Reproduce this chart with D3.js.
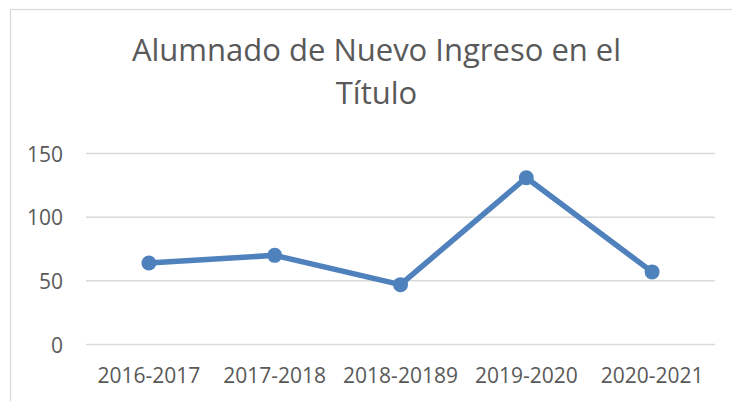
<!DOCTYPE html>
<html>
<head>
<meta charset="utf-8">
<script src="https://cdn.jsdelivr.net/npm/d3@7"></script>
<style>
  body { margin: 0; background: #fff; }
  svg text { font-family: "Open Sans", "Noto Sans", sans-serif; fill: #595959; }
</style>
</head>
<body>
<div id="chart-area"></div>
<script>
// Data
let categories = ["2016-2017", "2017-2018", "2018-20189", "2019-2020", "2020-2021"];
let values = [64, 70, 47, 131, 57];
let yTicks = [0, 50, 100, 150];
let titleLines = ["Alumnado de Nuevo Ingreso en el", "Título"];

// Chart area
let width = 732, height = 401;
let plot = {left: 86, right: 715, top: 153.5, bottom: 344.5};

let svg = d3.select("#chart-area").append("svg")
    .attr("width", width)
    .attr("height", height);

// Outer frame
svg.append("rect")
    .attr("x", 10.5)
    .attr("y", 9.5)
    .attr("width", 740)
    .attr("height", 420)
    .attr("fill", "none")
    .attr("stroke", "#d9d9d9")
    .attr("stroke-width", 1.25);

// Scales
let x = d3.scaleBand()
    .domain(categories)
    .range([plot.left, plot.right]);

let y = d3.scaleLinear()
    .domain([0, 150])
    .range([plot.bottom, plot.top]);

// Gridlines
svg.append("g")
    .attr("class", "grid")
    .selectAll("line")
    .data(yTicks)
    .enter()
    .append("line")
    .attr("x1", plot.left)
    .attr("x2", plot.right)
    .attr("y1", d => y(d))
    .attr("y2", d => y(d))
    .attr("stroke", "#d9d9d9")
    .attr("stroke-width", 1.5);

// Axes
let yAxis = d3.axisLeft(y)
    .tickValues(yTicks)
    .tickSize(0)
    .tickPadding(0);

let yAxisGroup = svg.append("g")
    .attr("class", "y-axis axis")
    .attr("transform", "translate(" + 63 + ",0)")
    .call(yAxis);

yAxisGroup.select(".domain").remove();
yAxisGroup.selectAll("text")
    .style("font-size", "21px")
    .attr("dy", "0.36em");

let xAxis = d3.axisBottom(x)
    .tickSize(0)
    .tickPadding(0);

let xAxisGroup = svg.append("g")
    .attr("class", "x-axis axis")
    .attr("transform", "translate(0," + 383 + ")")
    .call(xAxis);

xAxisGroup.select(".domain").remove();
xAxisGroup.selectAll("text")
    .style("font-size", "21px")
    .attr("y", 0)
    .attr("dy", 0);

svg.selectAll(".axis text").style("fill", "#595959");

// Line
let line = d3.line()
    .x((d, i) => x(categories[i]) + x.bandwidth() / 2)
    .y(d => y(d));

svg.append("path")
    .datum(values)
    .attr("d", line)
    .attr("fill", "none")
    .attr("stroke", "#4f81bd")
    .attr("stroke-width", 5.5)
    .attr("stroke-linejoin", "round");

svg.selectAll(".dot")
    .data(values)
    .enter()
    .append("circle")
    .attr("class", "dot")
    .attr("cx", (d, i) => x(categories[i]) + x.bandwidth() / 2)
    .attr("cy", d => y(d))
    .attr("r", 7.5)
    .attr("fill", "#4f81bd");

// Title, one text per line
svg.selectAll(".chart-title")
    .data(titleLines)
    .enter()
    .append("text")
    .attr("class", "chart-title")
    .attr("x", 376.5)
    .attr("y", (d, i) => i === 0 ? 61 : 103.5)
    .style("text-anchor", "middle")
    .style("font-size", "31px")
    .text(d => d);
</script>
</body>
</html>
